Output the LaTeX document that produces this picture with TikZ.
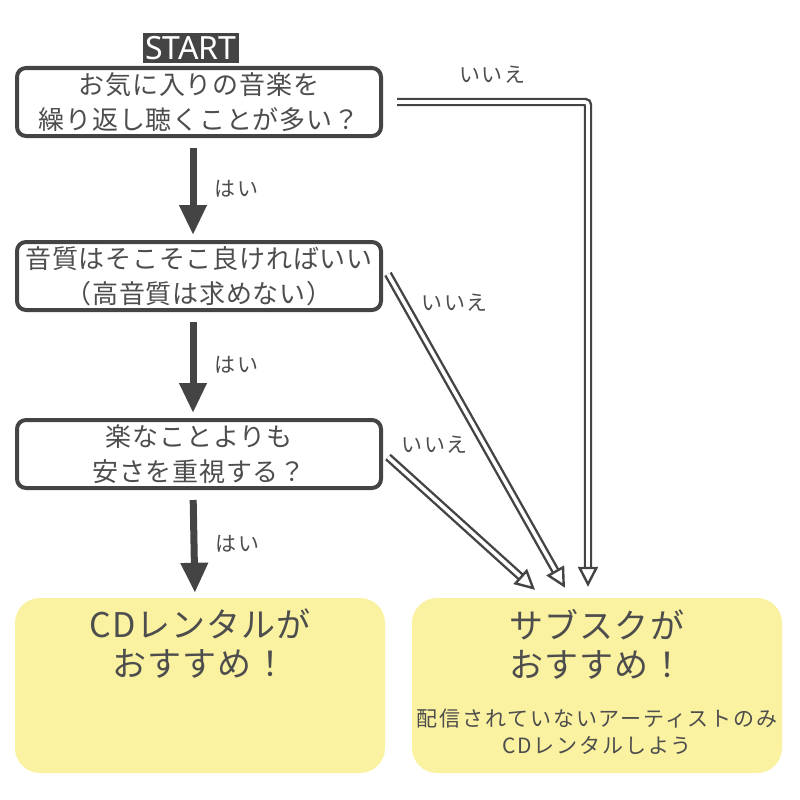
\documentclass[tikz,border=0pt]{standalone}
\usepackage{fontspec}
\usetikzlibrary{arrows.meta,positioning}
\newfontfamily\jpfont{Noto Sans CJK JP}[LetterSpace=3]
\newfontfamily\jpwide{Noto Sans CJK JP}[LetterSpace=9]
\newfontfamily\startfont{Noto Sans}
\definecolor{ink}{HTML}{444444}
\definecolor{txt}{HTML}{4D4D4D}
\definecolor{pale}{HTML}{FAF1A1}

\begin{document}
\begin{tikzpicture}[x=1pt,y=-1pt,
  question/.style={draw=ink, line width=4pt, rounded corners=9pt, minimum width=364pt, minimum height=68pt, align=center, text=txt, inner sep=0pt, font=\jpfont\fontsize{26}{35}\selectfont},
  goal/.style={fill=pale, rounded corners=25pt, minimum width=370pt, minimum height=175pt, inner sep=0pt},
  bigtxt/.style={align=center, text=txt, inner sep=0pt, font=\jpfont\fontsize{34}{39}\selectfont},
  smalltxt/.style={align=center, text=txt, inner sep=0pt, font=\jpwide\fontsize{21}{27}\selectfont},
  lab/.style={text=txt, inner sep=0pt, font=\jpwide\fontsize{21}{21}\selectfont},
  yes/.style={draw=ink, line width=7pt, shorten <=10pt, shorten >=5pt, -{Triangle[length=30pt,width=26pt]}},
  nope/.style={draw=ink, line width=2.4pt, double=white, double distance=3.6pt, rounded corners=3pt, -{Triangle[open,length=20pt,width=20pt]}}
]
\useasboundingbox (0,0) rectangle (800,800);

% questions
\node[question, name=q1] at (199,102) {お気に入りの音楽を\\繰り返し聴くことが多い？};
\node[question, name=q2] at (199,276) {音質はそこそこ良ければいい\\（高音質は求めない）};
\node[question, name=q3] at (199,454) {楽なことよりも\\安さを重視する？};

\node[fill=ink, text=white, inner xsep=2pt, inner ysep=0pt, minimum height=30pt, name=start, font=\startfont\fontsize{32}{32}\selectfont] at (191,48) {START};

% results
\node[goal, name=cd] at (200,685.5) {};
\node[goal, name=sub] at (597,685.5) {};
\node[bigtxt, below=11pt of cd.north, name=cdtxt] {CDレンタルが\\おすすめ！};
\node[bigtxt, below=11pt of sub.north, name=subtxt] {サブスクが\\おすすめ！};
\node[smalltxt, below=30pt of subtxt, name=subnote] {配信されていないアーティストのみ\\CDレンタルしよう};

% yes
\draw[yes] ([xshift=-6pt]q1.south) -- ([xshift=-6pt]q2.north) node[midway, right=18pt, lab] {はい};
\draw[yes] ([xshift=-6pt]q2.south) -- ([xshift=-6pt]q3.north) node[midway, right=18pt, lab] {はい};
\draw[yes] ([xshift=-6pt]q3.south) -- ([xshift=-5pt]cd.north) node[midway, right=18pt, lab] {はい};

% no
\draw[nope, shorten >=11pt] ([xshift=14pt]q1.east) -| ([xshift=-9pt]sub.north) node[pos=0.25, above=17pt, lab] {いいえ};
\draw[nope] ([xshift=5pt,yshift=2pt]q2.east) -- ([xshift=-32pt,yshift=10pt]sub.north) node[pos=0.09, right=16pt, lab] {いいえ};
\draw[nope] ([xshift=5pt,yshift=-3pt]q3.east) -- ([xshift=-62pt,yshift=8pt]sub.north) node[pos=0, anchor=south west, xshift=12pt, yshift=2pt, lab] {いいえ};
\end{tikzpicture}
\end{document}
